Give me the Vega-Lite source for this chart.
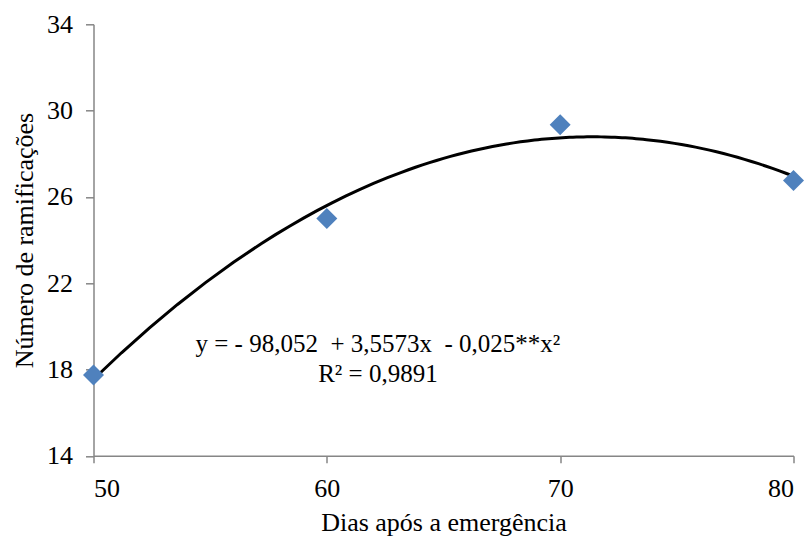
{
  "$schema": "https://vega.github.io/schema/vega-lite/v6.json",
  "autosize": {"type": "none"},
  "width": 700,
  "height": 431.5,
  "padding": {"left": 93.5, "top": 24.3, "right": 16.5, "bottom": 82.2},
  "background": "white",
  "config": {
    "view": {"stroke": null},
    "font": "Liberation Serif, Times New Roman, serif",
    "axis": {
      "domainColor": "#868686",
      "domainWidth": 1.5,
      "tickColor": "#868686",
      "tickWidth": 1.5,
      "grid": false,
      "labelFont": "Liberation Serif, Times New Roman, serif",
      "labelFontSize": 26,
      "labelColor": "#000000",
      "titleFont": "Liberation Serif, Times New Roman, serif",
      "titleFontSize": 26,
      "titleFontWeight": "normal",
      "titleColor": "#000000"
    }
  },
  "data": {
    "values": [
      {"dias": 50, "ramificacoes": 17.75},
      {"dias": 60, "ramificacoes": 25.0},
      {"dias": 70, "ramificacoes": 29.34},
      {"dias": 80, "ramificacoes": 26.76}
    ]
  },
  "layer": [
    {
      "transform": [
        {"regression": "ramificacoes", "on": "dias", "method": "poly", "order": 2, "extent": [50, 80]}
      ],
      "mark": {"type": "line", "color": "#000000", "strokeWidth": 3},
      "encoding": {
        "x": {"field": "dias", "type": "quantitative"},
        "y": {"field": "ramificacoes", "type": "quantitative"}
      }
    },
    {
      "mark": {"type": "point", "shape": "diamond", "filled": true, "size": 440, "color": "#4F81BD", "opacity": 1},
      "encoding": {
        "x": {
          "field": "dias", "type": "quantitative",
          "scale": {"domain": [50, 80], "nice": false, "zero": false},
          "axis": {"values": [50, 60, 70, 80], "title": "Dias após a emergência", "tickSize": 7, "labelPadding": 13, "titleY": 74.5, "titleBaseline": "alphabetic"}
        },
        "y": {
          "field": "ramificacoes", "type": "quantitative",
          "scale": {"domain": [14, 34], "nice": false, "zero": false},
          "axis": {"values": [14, 18, 22, 26, 30, 34], "title": "Número de ramificações", "tickSize": 8, "labelPadding": 13, "titleX": -61.5, "titleBaseline": "alphabetic"}
        }
      }
    },
    {
      "data": {"values": [{"label": "y = - 98,052 \u00a0+ 3,5573x \u00a0- 0,025**x²\nR² = 0,9891"}]},
      "mark": {"type": "text", "font": "Liberation Serif, Times New Roman, serif", "fontSize": 25, "align": "center", "baseline": "middle", "lineBreak": "\n", "lineHeight": 30, "color": "#000000"},
      "encoding": {
        "x": {"datum": 62.19, "type": "quantitative"},
        "y": {"datum": 19.2, "type": "quantitative"},
        "text": {"field": "label"}
      }
    }
  ]
}
